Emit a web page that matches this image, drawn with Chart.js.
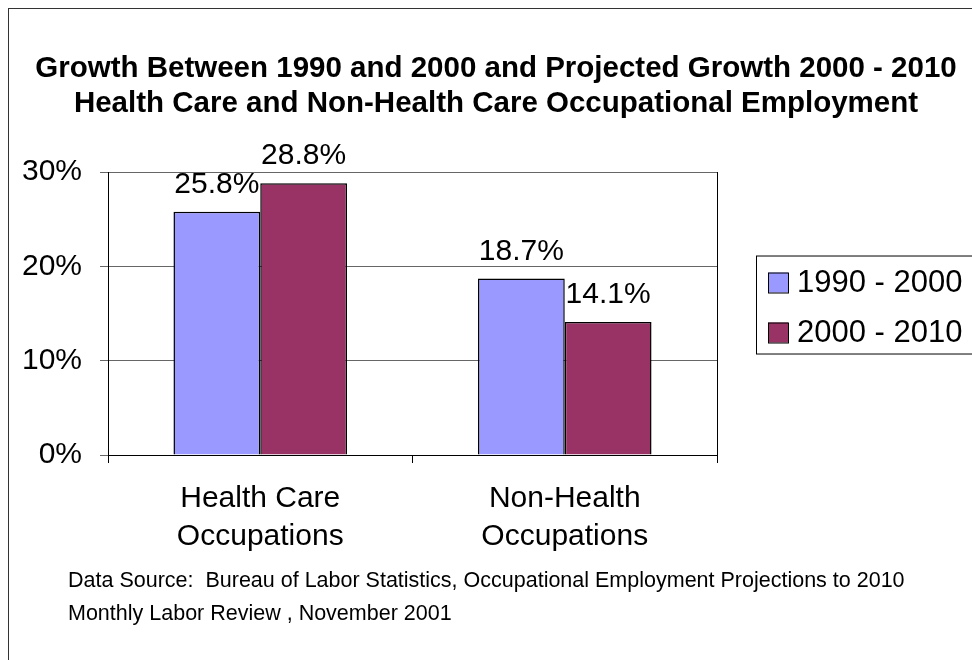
<!DOCTYPE html>
<html>
<head>
<meta charset="utf-8">
<script src="https://cdn.jsdelivr.net/npm/chart.js@4.4.1/dist/chart.umd.min.js"></script>
<style>
  html, body { margin: 0; padding: 0; background: #fff; overflow: hidden; }
  #wrap { position: relative; width: 972px; height: 660px; }
  #frame { position: absolute; left: 8px; top: 8px; width: 2000px; height: 2000px; border: 1px solid #333; }
  #chart { position: absolute; left: 0; top: 0; }
</style>
</head>
<body>
<div id="wrap">
  <div id="frame"></div>
  <canvas id="chart" width="972" height="660"></canvas>
</div>
<script>
const categories = [["Health Care", "Occupations"], ["Non-Health", "Occupations"]];
const seriesNames = ["1990 - 2000", "2000 - 2010"];
const growth1990 = [25.8, 18.7];
const growth2000 = [28.8, 14.1];
const yTicks = [0, 10, 20, 30];
const seriesColors = ["#9999FF", "#993366"];
const titleLines = [
    "Growth Between 1990 and 2000 and Projected Growth 2000 - 2010",
    "Health Care and Non-Health Care Occupational Employment"
];
const sourceLines = [
    "Data Source:  Bureau of Labor Statistics, Occupational Employment Projections to 2010",
    "Monthly Labor Review , November 2001"
];

const FONT = "Arial, 'Liberation Sans', sans-serif";
Chart.defaults.font.family = FONT;
Chart.defaults.color = "#000";

const extras = {
    id: "extras",
    afterDatasetsDraw(chart) {
        const ctx = chart.ctx;
        const area = chart.chartArea;
        ctx.save();
        // right border of plot area
        ctx.strokeStyle = "#000";
        ctx.lineWidth = 1;
        ctx.beginPath();
        ctx.moveTo(area.right + 0.5, area.top);
        ctx.lineTo(area.right + 0.5, area.bottom);
        ctx.stroke();

        // value labels
        ctx.fillStyle = "#000";
        ctx.font = "30px " + FONT;
        ctx.textAlign = "center";
        ctx.textBaseline = "alphabetic";
        chart.data.datasets.forEach((ds, i) => {
            chart.getDatasetMeta(i).data.forEach((bar, j) => {
                ctx.fillText(ds.data[j].toFixed(1) + "%", bar.x, bar.y - 19);
            });
        });

        // legend
        const lx = area.right + 39;
        const ly = (area.top + area.bottom) / 2 - 58;
        ctx.lineWidth = 1;
        ctx.strokeRect(lx + 0.5, ly + 0.5, 400, 98);
        ctx.font = "31px " + FONT;
        ctx.textAlign = "left";
        ctx.textBaseline = "middle";
        chart.data.datasets.forEach((ds, i) => {
            const sy = ly + 17 + i * 50;
            ctx.fillStyle = ds.backgroundColor;
            ctx.fillRect(lx + 12, sy, 20, 20);
            ctx.strokeStyle = "#000";
            ctx.strokeRect(lx + 12.5, sy + 0.5, 20, 20);
            ctx.fillStyle = "#000";
            ctx.fillText(ds.label, lx + 41, sy + 11);
        });

        // source note
        ctx.font = "21.5px " + FONT;
        sourceLines.forEach((t, i) => ctx.fillText(t, 68, 581 + i * 33));
        ctx.restore();
    }
};

new Chart(document.getElementById("chart"), {
    type: "bar",
    data: {
        labels: categories,
        datasets: [
            { label: seriesNames[0], data: growth1990, backgroundColor: seriesColors[0] },
            { label: seriesNames[1], data: growth2000, backgroundColor: seriesColors[1] }
        ]
    },
    options: {
        responsive: false,
        animation: false,
        layout: { padding: { left: 20, right: 0, top: 0, bottom: 105 } },
        datasets: {
            bar: { borderColor: "#000", borderWidth: 1.5, categoryPercentage: 0.57, barPercentage: 1.0 }
        },
        plugins: {
            legend: { display: false },
            tooltip: { enabled: false },
            title: {
                display: true,
                text: titleLines,
                font: { size: 29.5, weight: "bold", lineHeight: 1.17 },
                padding: { top: 52, bottom: 51 }
            }
        },
        scales: {
            x: {
                offset: true,
                grid: { offset: true, drawOnChartArea: false, color: "#000", tickLength: 8 },
                border: { color: "#000" },
                ticks: { font: { size: 30, lineHeight: 1.27 }, padding: 17, maxRotation: 0 },
                afterFit(s) { s.height = 100; }
            },
            y: {
                min: 0,
                max: 30,
                afterBuildTicks(axis) { axis.ticks = yTicks.map(v => ({ value: v })); },
                grid: { color: "#666", tickLength: 8 },
                border: { color: "#000" },
                ticks: { font: { size: 30 }, padding: 18, callback: v => v + "%" },
                afterFit(s) { s.width = 88; }
            },
            side: {
                type: "linear",
                position: "right",
                display: true,
                grid: { display: false },
                border: { display: false },
                ticks: { display: false },
                afterFit(s) { s.width = 255; }
            }
        }
    },
    plugins: [extras]
});
</script>
</body>
</html>
